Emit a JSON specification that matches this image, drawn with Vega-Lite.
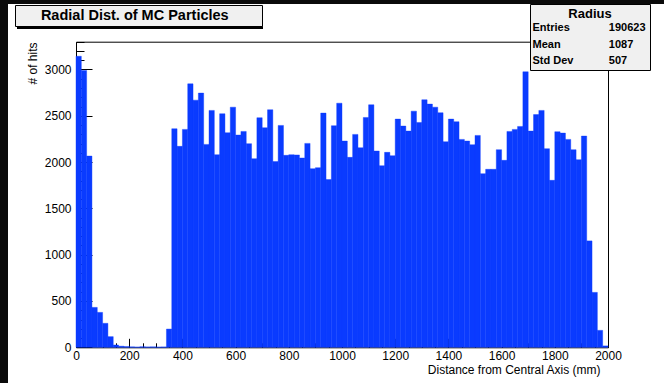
{
  "$schema": "https://vega.github.io/schema/vega-lite/v6.json",
  "width": 656,
  "height": 379,
  "autosize": "none",
  "padding": {"left": 8, "top": 4, "right": 0, "bottom": 0},
  "background": "#0a0a0a",
  "view": {"fill": "white", "stroke": null},
  "config": {
    "view": {"fill": "white", "stroke": null},
    "font": "Liberation Sans",
    "axis": {"zindex": 1, "grid": false, "domainColor": "black", "tickColor": "black", "labelColor": "black", "titleColor": "black", "labelFont": "Liberation Sans", "titleFont": "Liberation Sans", "labelFontSize": 12, "titleFontSize": 12, "titleFontWeight": "normal", "labelFlush": false, "labelOverlap": false, "format": "d"}
  },
  "datasets": {
    "hist": [
      {"lo":0,"hi":20,"hits":3143},{"lo":20,"hi":40,"hits":2990},{"lo":40,"hi":60,"hits":2065},{"lo":60,"hi":80,"hits":431},{"lo":80,"hi":100,"hits":377},
      {"lo":100,"hi":120,"hits":259},{"lo":120,"hi":140,"hits":115},{"lo":140,"hi":160,"hits":25},{"lo":160,"hi":180,"hits":12},{"lo":180,"hi":200,"hits":8},
      {"lo":200,"hi":220,"hits":5},{"lo":220,"hi":240,"hits":3},{"lo":240,"hi":260,"hits":6},{"lo":260,"hi":280,"hits":4},{"lo":280,"hi":300,"hits":5},
      {"lo":300,"hi":320,"hits":3},{"lo":320,"hi":340,"hits":4},{"lo":340,"hi":360,"hits":197},{"lo":360,"hi":380,"hits":2360},{"lo":380,"hi":400,"hits":2170},
      {"lo":400,"hi":420,"hits":2353},{"lo":420,"hi":440,"hits":2845},{"lo":440,"hi":460,"hits":2669},{"lo":460,"hi":480,"hits":2745},{"lo":480,"hi":500,"hits":2191},
      {"lo":500,"hi":520,"hits":2558},{"lo":520,"hi":540,"hits":2080},{"lo":540,"hi":560,"hits":2522},{"lo":560,"hi":580,"hits":2317},{"lo":580,"hi":600,"hits":2593},
      {"lo":600,"hi":620,"hits":2292},{"lo":620,"hi":640,"hits":2331},{"lo":640,"hi":660,"hits":2199},{"lo":660,"hi":680,"hits":2037},{"lo":680,"hi":700,"hits":2479},
      {"lo":700,"hi":720,"hits":2371},{"lo":720,"hi":740,"hits":2565},{"lo":740,"hi":760,"hits":2005},{"lo":760,"hi":780,"hits":2396},{"lo":780,"hi":800,"hits":2073},
      {"lo":800,"hi":820,"hits":2080},{"lo":820,"hi":840,"hits":2077},{"lo":840,"hi":860,"hits":2044},{"lo":860,"hi":880,"hits":2202},{"lo":880,"hi":900,"hits":1929},
      {"lo":900,"hi":920,"hits":1940},{"lo":920,"hi":940,"hits":2529},{"lo":940,"hi":960,"hits":1811},{"lo":960,"hi":980,"hits":2393},{"lo":980,"hi":1000,"hits":2636},
      {"lo":1000,"hi":1020,"hits":2227},{"lo":1020,"hi":1040,"hits":2051},{"lo":1040,"hi":1060,"hits":2299},{"lo":1060,"hi":1080,"hits":2155},{"lo":1080,"hi":1100,"hits":2482},
      {"lo":1100,"hi":1120,"hits":2619},{"lo":1120,"hi":1140,"hits":2119},{"lo":1140,"hi":1160,"hits":1961},{"lo":1160,"hi":1180,"hits":2105},{"lo":1180,"hi":1200,"hits":2069},
      {"lo":1200,"hi":1220,"hits":2464},{"lo":1220,"hi":1240,"hits":2389},{"lo":1240,"hi":1260,"hits":2335},{"lo":1260,"hi":1280,"hits":2550},{"lo":1280,"hi":1300,"hits":2428},
      {"lo":1300,"hi":1320,"hits":2673},{"lo":1320,"hi":1340,"hits":2626},{"lo":1340,"hi":1360,"hits":2593},{"lo":1360,"hi":1380,"hits":2533},{"lo":1380,"hi":1400,"hits":2220},
      {"lo":1400,"hi":1420,"hits":2464},{"lo":1420,"hi":1440,"hits":2436},{"lo":1440,"hi":1460,"hits":2245},{"lo":1460,"hi":1480,"hits":2227},{"lo":1480,"hi":1500,"hits":2188},
      {"lo":1500,"hi":1520,"hits":2288},{"lo":1520,"hi":1540,"hits":1875},{"lo":1540,"hi":1560,"hits":1922},{"lo":1560,"hi":1580,"hits":1922},{"lo":1580,"hi":1600,"hits":2134},
      {"lo":1600,"hi":1620,"hits":2019},{"lo":1620,"hi":1640,"hits":2331},{"lo":1640,"hi":1660,"hits":2353},{"lo":1660,"hi":1680,"hits":2385},{"lo":1680,"hi":1700,"hits":2975},
      {"lo":1700,"hi":1720,"hits":2335},{"lo":1720,"hi":1740,"hits":2513},{"lo":1740,"hi":1760,"hits":2558},{"lo":1760,"hi":1780,"hits":2145},{"lo":1780,"hi":1800,"hits":1803},
      {"lo":1800,"hi":1820,"hits":2328},{"lo":1820,"hi":1840,"hits":2313},{"lo":1840,"hi":1860,"hits":2245},{"lo":1860,"hi":1880,"hits":2134},{"lo":1880,"hi":1900,"hits":2026},
      {"lo":1900,"hi":1920,"hits":2281},{"lo":1920,"hi":1940,"hits":1149},{"lo":1940,"hi":1960,"hits":593},{"lo":1960,"hi":1980,"hits":183},{"lo":1980,"hi":2000,"hits":15}
    ],
    "stats": [
      {"cell": "Entries"}, {"cell": "Mean"}, {"cell": "Std Dev"},
      {"cell": "190623"}, {"cell": "1087"}, {"cell": "507"}
    ],
    "heading": [
      {"text": "Radial Dist. of MC Particles"}
    ]
  },
  "resolve": {"axis": {"x": "independent", "y": "independent"}},
  "layer": [
    {
      "data": {"name": "heading"},
      "mark": {"type": "point", "filled": true, "color": "black", "size": 4},
      "encoding": {
        "shape": {"field": "text", "type": "nominal",
                  "scale": {"domain": ["Radial Dist. of MC Particles"], "range": ["M-1,-0.09H1V0.09H-1Z"]},
                  "legend": {"orient": "none", "legendX": 9, "legendY": 3, "title": null, "zindex": 1,
                             "padding": 0, "clipHeight": 22,
                             "symbolSize": 60516, "symbolStrokeWidth": 0, "symbolOffset": 0, "symbolOpacity": 1, "symbolFillColor": "black",
                             "labelExpr": "''", "labelOffset": 0, "labelFontSize": 1}}
      }
    },
    {
      "data": {"name": "hist"},
      "mark": {"type": "rect", "fill": "#0a3bff", "stroke": "#0a3bff", "strokeWidth": 0.4},
      "encoding": {
        "x": {"field": "lo", "type": "quantitative",
              "scale": {"domain": [0, 2000], "range": [68, 600], "nice": false, "zero": false},
              "axis": {"orient": "bottom", "offset": -35.7, "values": [0,200,400,600,800,1000,1200,1400,1600,1800,2000],
                       "tickSize": -9, "labelPadding": 12.4,
                       "title": "Distance from Central Axis (mm)", "titleAnchor": "end", "titleAlign": "right", "titleBaseline": "alphabetic", "titleX": 592, "titleY": 26.5}},
        "x2": {"field": "hi"},
        "y": {"field": "hits", "type": "quantitative",
              "scale": {"domain": [0, 3300], "range": [343.3, 37.7], "nice": false, "zero": true},
              "axis": {"orient": "left", "offset": -68, "values": [0,500,1000,1500,2000,2500,3000],
                       "tickSize": -16, "labelPadding": 21,
                       "title": "# of hits", "titleAngle": -90, "titleAlign": "right", "titleBaseline": "alphabetic", "titleX": -40, "titleY": 38}},
        "y2": {"datum": 0}
      }
    },
    {
      "data": {"name": "hist"},
      "mark": {"type": "rect", "opacity": 0},
      "encoding": {
        "x": {"field": "lo", "type": "quantitative",
              "axis": {"orient": "bottom", "offset": -35.7, "values": [0,50,100,150,200,250,300,350,400,450,500,550,600,650,700,750,800,850,900,950,1000,1050,1100,1150,1200,1250,1300,1350,1400,1450,1500,1550,1600,1650,1700,1750,1800,1850,1900,1950,2000],
                       "tickSize": -4.5, "labels": false, "domain": false, "title": null}},
        "x2": {"field": "hi"},
        "y": {"field": "hits", "type": "quantitative",
              "axis": {"orient": "left", "offset": -68, "values": [0,100,200,300,400,500,600,700,800,900,1000,1100,1200,1300,1400,1500,1600,1700,1800,1900,2000,2100,2200,2300,2400,2500,2600,2700,2800,2900,3000,3100,3200,3300],
                       "tickSize": -8, "labels": false, "domain": false, "title": null}},
        "y2": {"datum": 0}
      }
    },
    {
      "data": {"name": "hist"},
      "mark": {"type": "rect", "opacity": 0},
      "encoding": {
        "x": {"field": "lo", "type": "quantitative",
              "axis": {"orient": "top", "offset": -37.7, "labels": false, "ticks": false, "title": null}},
        "x2": {"field": "hi"},
        "y": {"field": "hits", "type": "quantitative",
              "axis": {"orient": "right", "offset": -56, "labels": false, "ticks": false, "title": null}},
        "y2": {"datum": 0}
      }
    },
    {
      "data": {"name": "stats"},
      "mark": {"type": "point", "opacity": 0},
      "encoding": {
        "color": {"field": "cell", "type": "nominal", "sort": null,
                  "legend": {"orient": "none", "legendX": 522, "legendY": 0, "zindex": 1,
                             "title": "Radius", "titleAnchor": "middle", "titleFont": "Liberation Sans", "titleFontSize": 13, "titleFontWeight": "bold", "titleColor": "black", "titlePadding": 1.5,
                             "columns": 2, "columnPadding": 34.3, "rowPadding": 4.5,
                             "symbolSize": 0, "symbolOpacity": 0, "symbolStrokeWidth": 0, "symbolOffset": -5.5, "labelOffset": -7,
                             "labelFont": "Liberation Sans", "labelFontSize": 11, "labelFontWeight": "bold", "labelColor": "black", "labelLimit": 300,
                             "fillColor": "#f0f0f0", "strokeColor": "black", "padding": 4}}
      }
    },
    {
      "data": {"name": "heading"},
      "mark": {"type": "point", "opacity": 0},
      "encoding": {
        "fill": {"field": "text", "type": "nominal",
                 "legend": {"orient": "none", "legendX": 7, "legendY": 1, "title": null, "zindex": 2,
                            "values": [" ", "Radial Dist. of MC Particles", "  "],
                            "columns": 3, "columnPadding": 20.9,
                            "symbolSize": 0, "symbolOpacity": 0, "symbolStrokeWidth": 0, "symbolOffset": -7, "labelOffset": -14,
                            "labelFont": "Liberation Sans", "labelFontSize": 14.5, "labelFontWeight": "bold", "labelColor": "black", "labelLimit": 400,
                            "fillColor": "#f0f0f0", "strokeColor": "black", "padding": 3.5}}
      }
    }
  ]
}
